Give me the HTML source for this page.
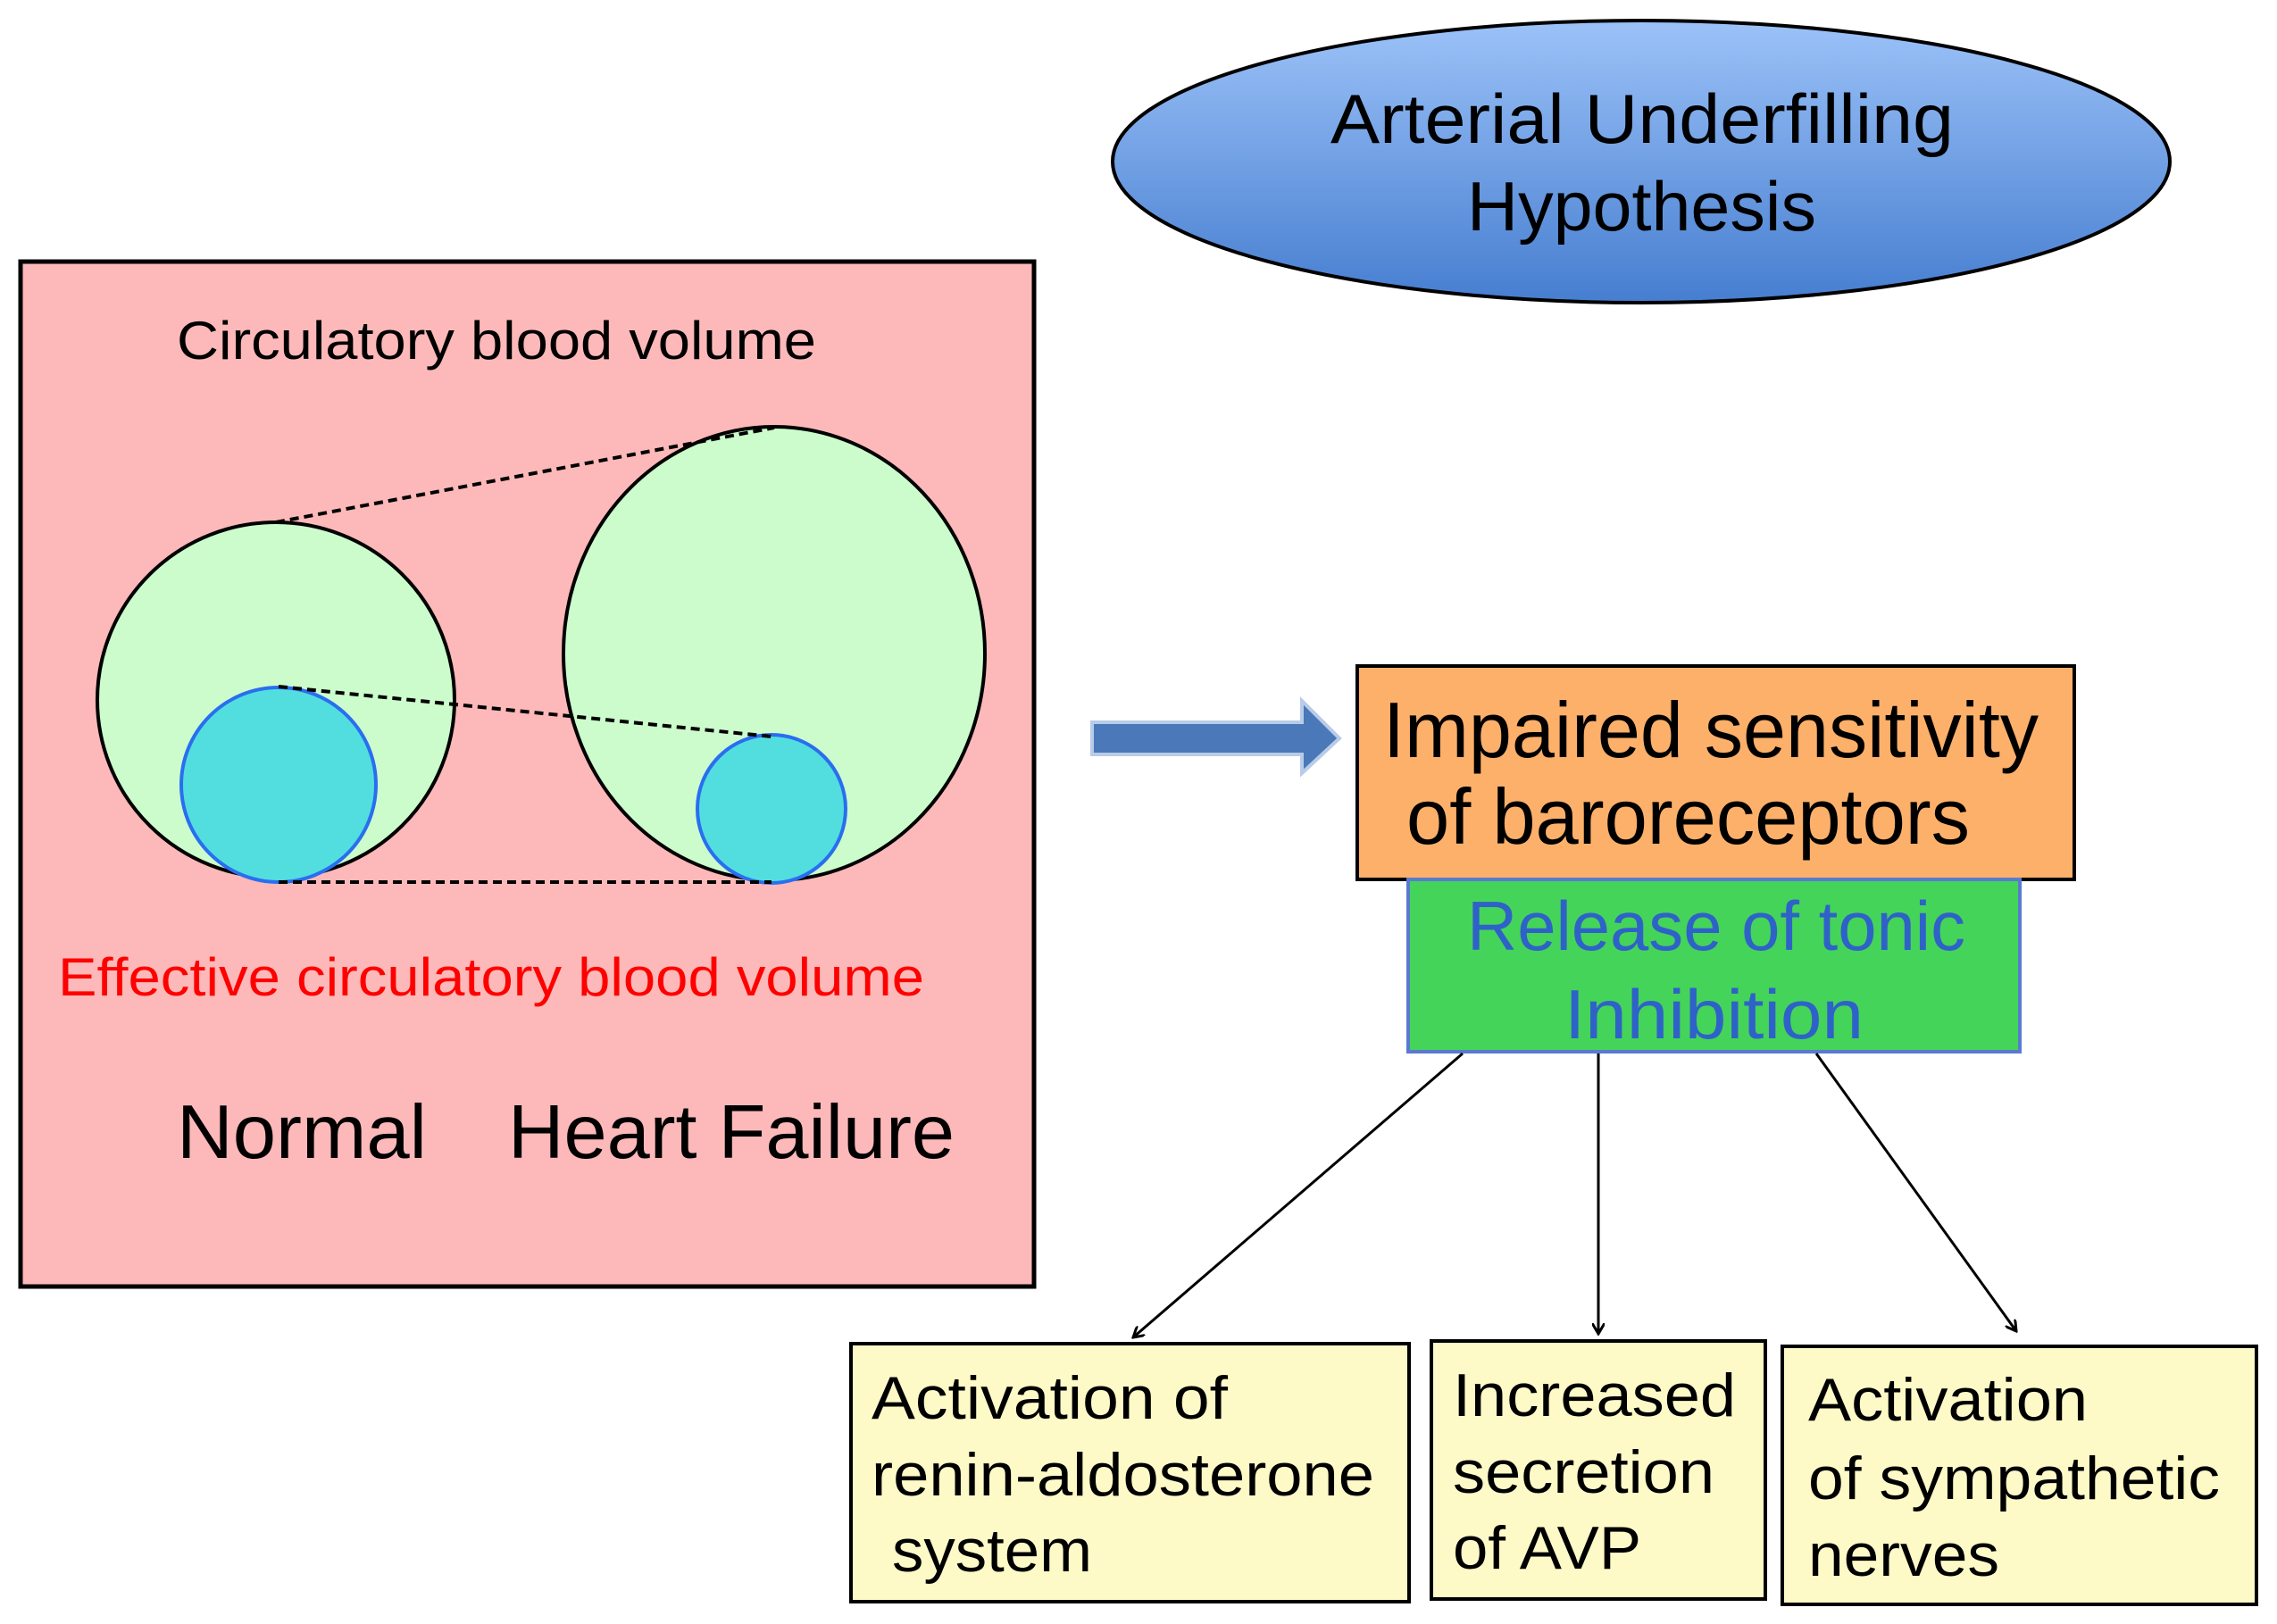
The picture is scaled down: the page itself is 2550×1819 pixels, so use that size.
<!DOCTYPE html>
<html><head><meta charset="utf-8"><style>html,body{margin:0;padding:0;background:#fff}svg{display:block}text{font-family:"Liberation Sans",sans-serif}</style></head>
<body>
<svg width="2550" height="1819" viewBox="0 0 2550 1819" xmlns="http://www.w3.org/2000/svg">
<defs>
<linearGradient id="g" x1="0" y1="0" x2="0" y2="1"><stop offset="0" stop-color="#9cc2f8"/><stop offset="1" stop-color="#467ed0"/></linearGradient>
<marker id="a" markerWidth="14" markerHeight="14" refX="12" refY="7" orient="auto" markerUnits="userSpaceOnUse"><path d="M0,0 L12,7 L0,14" fill="none" stroke="#000" stroke-width="3"/></marker>
</defs>
<ellipse cx="1838" cy="181" rx="592" ry="158" fill="url(#g)" stroke="#000" stroke-width="4"/>
<text x="1490" y="160" font-size="78" textLength="698" lengthAdjust="spacingAndGlyphs">Arterial Underfilling</text>
<text x="1643" y="258" font-size="78" textLength="391" lengthAdjust="spacingAndGlyphs">Hypothesis</text>

<rect x="23" y="293" width="1135" height="1148" fill="#fdb9b9" stroke="#000" stroke-width="5"/>
<text x="198" y="402" font-size="60" textLength="716" lengthAdjust="spacingAndGlyphs">Circulatory blood volume</text>
<ellipse cx="309" cy="784" rx="200" ry="199" fill="#ccfccc" stroke="#000" stroke-width="4"/>
<ellipse cx="867" cy="732" rx="236" ry="254" fill="#ccfccc" stroke="#000" stroke-width="4"/>
<ellipse cx="312" cy="879" rx="109" ry="109" fill="#52dede" stroke="#2a6ef0" stroke-width="4"/>
<ellipse cx="864" cy="906" rx="83" ry="83" fill="#52dede" stroke="#2a6ef0" stroke-width="4"/>
<g stroke="#000" stroke-width="4" stroke-dasharray="10,6">
<line x1="309" y1="585" x2="867" y2="479"/>
<line x1="312" y1="769" x2="864" y2="825"/>
<line x1="312" y1="988" x2="864" y2="988"/>
</g>
<text x="65" y="1115" font-size="60" fill="#ff0000" textLength="970" lengthAdjust="spacingAndGlyphs">Effective circulatory blood volume</text>
<text x="198" y="1297" font-size="85" textLength="280" lengthAdjust="spacingAndGlyphs">Normal</text>
<text x="569" y="1297" font-size="85" textLength="500" lengthAdjust="spacingAndGlyphs">Heart Failure</text>

<path d="M1223,809 L1458,809 L1458,785 L1500,827 L1458,866 L1458,845 L1223,845 Z" fill="#4a78b8" stroke="#b8cce8" stroke-width="4"/>

<rect x="1520" y="746" width="803" height="239" fill="#fdb06a" stroke="#000" stroke-width="4"/>
<text x="1549" y="848" font-size="88" textLength="734" lengthAdjust="spacingAndGlyphs">Impaired sensitivity</text>
<text x="1575" y="945" font-size="88" textLength="631" lengthAdjust="spacingAndGlyphs">of baroreceptors</text>
<rect x="1577" y="985" width="685" height="193" fill="#44d45a" stroke="#5a7ad0" stroke-width="4"/>
<text x="1643" y="1064" font-size="78" fill="#2f62c8" textLength="558" lengthAdjust="spacingAndGlyphs">Release of tonic</text>
<text x="1752" y="1163" font-size="78" fill="#2f62c8" textLength="335" lengthAdjust="spacingAndGlyphs">Inhibition</text>

<g stroke="#000" stroke-width="3" fill="none" marker-end="url(#a)">
<line x1="1638" y1="1180" x2="1269" y2="1498"/>
<line x1="1790" y1="1180" x2="1790" y2="1494"/>
<line x1="2034" y1="1180" x2="2258" y2="1491"/>
</g>

<rect x="953" y="1505" width="625" height="289" fill="#fefac8" stroke="#000" stroke-width="4"/>
<text x="976" y="1589" font-size="68" textLength="399" lengthAdjust="spacingAndGlyphs">Activation of</text>
<text x="976" y="1675" font-size="68" textLength="563" lengthAdjust="spacingAndGlyphs">renin-aldosterone</text>
<text x="999" y="1760" font-size="68" textLength="224" lengthAdjust="spacingAndGlyphs">system</text>
<rect x="1603" y="1502" width="374" height="289" fill="#fefac8" stroke="#000" stroke-width="4"/>
<text x="1627" y="1586" font-size="68" textLength="317" lengthAdjust="spacingAndGlyphs">Increased</text>
<text x="1627" y="1672" font-size="68" textLength="293" lengthAdjust="spacingAndGlyphs">secretion</text>
<text x="1627" y="1757" font-size="68" textLength="211" lengthAdjust="spacingAndGlyphs">of AVP</text>
<rect x="1996" y="1508" width="531" height="289" fill="#fefac8" stroke="#000" stroke-width="4"/>
<text x="2025" y="1591" font-size="68" textLength="313" lengthAdjust="spacingAndGlyphs">Activation</text>
<text x="2025" y="1679" font-size="68" textLength="461" lengthAdjust="spacingAndGlyphs">of sympathetic</text>
<text x="2025" y="1765" font-size="68" textLength="214" lengthAdjust="spacingAndGlyphs">nerves</text>
</svg>
</body></html>
